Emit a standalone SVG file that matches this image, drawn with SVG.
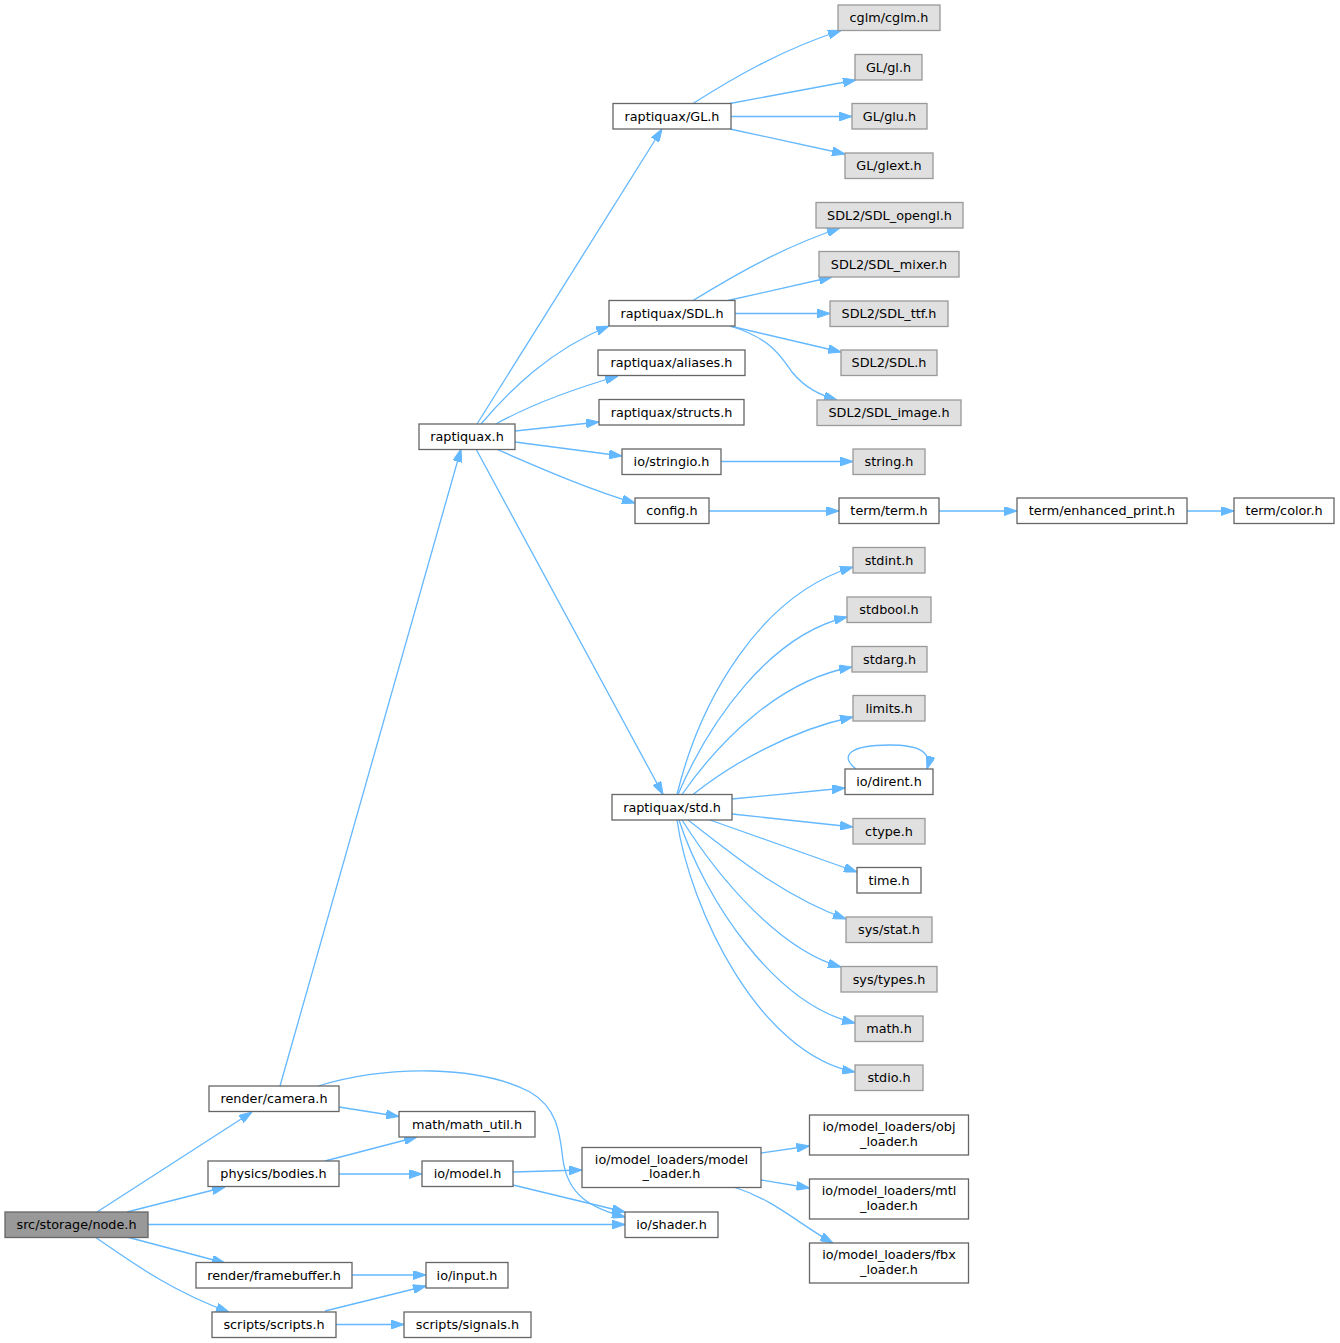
<svg xmlns="http://www.w3.org/2000/svg" width="1340" height="1343" viewBox="0 0 1340 1343">
<defs>
<style>
.n rect{fill:#ffffff;stroke:#666666;stroke-width:1.3}
.x rect{fill:#e0e0e0;stroke:#999999;stroke-width:1.3}
.r rect{fill:#999999;stroke:#666666;stroke-width:1.3}
text{font-family:"DejaVu Sans","Liberation Sans",sans-serif;font-size:12.8px;text-anchor:middle;fill:#000000}
#edges path{fill:none;stroke:#63b8ff;stroke-width:1.3;marker-end:url(#a)}
</style>
<marker id="a" viewBox="0 0 13 9" refX="13" refY="4.5" markerWidth="13" markerHeight="9" markerUnits="userSpaceOnUse" orient="auto">
<path d="M0,0 L13,4.5 L0,9 z" fill="#63b8ff" stroke="#63b8ff" stroke-width="1"/>
</marker>
</defs>
<rect width="1340" height="1343" fill="#ffffff"/>
<g id="edges">
<path d="M97,1212 L252,1112"/>
<path d="M127,1212 L225,1187"/>
<path d="M148,1224.5 L625,1224.5"/>
<path d="M127,1237 L225,1263"/>
<path d="M95,1237 C126,1258 168,1290 229,1312"/>
<path d="M280,1086 L461,449"/>
<path d="M339,1107 L399,1116.5"/>
<path d="M318,1086 C390,1064 480,1066 530,1092 C558,1108 560,1135 563,1160 C568,1195 590,1208 625,1217"/>
<path d="M325,1161 L417,1137"/>
<path d="M339,1174 L422,1174"/>
<path d="M513,1172 L582,1170"/>
<path d="M513,1185 L625,1212"/>
<path d="M352,1275 L426,1275"/>
<path d="M325,1311 L426,1286"/>
<path d="M336,1324.5 L404,1324.5"/>
<path d="M761,1153 L809.5,1146"/>
<path d="M761,1180 L809.5,1188"/>
<path d="M735,1187.5 C775,1200 800,1225 833,1243"/>
<path d="M477,424 L662,129"/>
<path d="M481,424 C510,390 550,350 609,326"/>
<path d="M496,424 C530,405 570,390 618,376"/>
<path d="M515,431 L599,422"/>
<path d="M515,442 L622,456"/>
<path d="M496,449 C540,468 590,490 635,503"/>
<path d="M476,449 L663,794.5"/>
<path d="M693,103.5 C730,80 780,50 841,30.5"/>
<path d="M730,103.5 L856,80"/>
<path d="M731,116.5 L852,116.5"/>
<path d="M730,129 L845,154"/>
<path d="M693,300.5 C730,278 780,248 840,228"/>
<path d="M728,300.5 L832,277"/>
<path d="M735,313.5 L830,313.5"/>
<path d="M730,326 L841,352"/>
<path d="M730,326 C770,338 780,355 792,372 C805,388 820,395 837,400"/>
<path d="M721,461.5 L853,461.5"/>
<path d="M709,511 L839,511"/>
<path d="M939,511 L1017,511"/>
<path d="M1187,511 L1234,511"/>
<path d="M677,794.5 C700,700 760,595 853,567"/>
<path d="M678,794.5 C710,720 770,635 847,617"/>
<path d="M682,794.5 C720,740 780,680 852,667"/>
<path d="M693,794.5 C730,765 790,730 853,717"/>
<path d="M732,799 L845,788"/>
<path d="M732,814 L853,827"/>
<path d="M710,820 L857,872"/>
<path d="M688,820 C730,852 780,895 846,919"/>
<path d="M682,820 C720,880 780,950 841,967"/>
<path d="M679,820 C705,900 775,1005 855,1023"/>
<path d="M677,820 C690,910 760,1055 855,1072"/>
<path d="M856,769 C838,755 852,745 889,745 C920,745 932,752 927,769"/>
</g>
<g id="node_root" class="r"><rect x="5" y="1212" width="143" height="25.5"/><text x="76.5" y="1229.2">src/storage/node.h</text></g>
<g id="node_camera" class="n"><rect x="209" y="1086" width="130" height="25.5"/><text x="274" y="1103.2">render/camera.h</text></g>
<g id="node_bodies" class="n"><rect x="208" y="1161" width="131" height="25.5"/><text x="273.5" y="1178.2">physics/bodies.h</text></g>
<g id="node_framebuffer" class="n"><rect x="196" y="1262.5" width="156" height="25.5"/><text x="274" y="1279.7">render/framebuffer.h</text></g>
<g id="node_scripts" class="n"><rect x="212" y="1312" width="124" height="25.5"/><text x="274" y="1329.2">scripts/scripts.h</text></g>
<g id="node_raptiquax" class="n"><rect x="419" y="424" width="96" height="25.5"/><text x="467" y="441.2">raptiquax.h</text></g>
<g id="node_math_util" class="n"><rect x="399" y="1111.5" width="136" height="25.5"/><text x="467" y="1128.7">math/math_util.h</text></g>
<g id="node_model" class="n"><rect x="422" y="1161" width="91" height="25.5"/><text x="467.5" y="1178.2">io/model.h</text></g>
<g id="node_input" class="n"><rect x="426" y="1262.5" width="82" height="25.5"/><text x="467" y="1279.7">io/input.h</text></g>
<g id="node_signals" class="n"><rect x="404" y="1312" width="127" height="25.5"/><text x="467.5" y="1329.2">scripts/signals.h</text></g>
<g id="node_GL" class="n"><rect x="613" y="103.5" width="118" height="25.5"/><text x="672" y="120.7">raptiquax/GL.h</text></g>
<g id="node_SDL" class="n"><rect x="609" y="300.5" width="126" height="25.5"/><text x="672" y="317.7">raptiquax/SDL.h</text></g>
<g id="node_aliases" class="n"><rect x="598" y="350" width="147" height="25.5"/><text x="671.5" y="367.2">raptiquax/aliases.h</text></g>
<g id="node_structs" class="n"><rect x="599" y="399.5" width="145" height="25.5"/><text x="671.5" y="416.7">raptiquax/structs.h</text></g>
<g id="node_stringio" class="n"><rect x="622" y="449" width="99" height="25.5"/><text x="671.5" y="466.2">io/stringio.h</text></g>
<g id="node_config" class="n"><rect x="635" y="498" width="74" height="25.5"/><text x="672" y="515.2">config.h</text></g>
<g id="node_std" class="n"><rect x="612" y="794.5" width="120" height="25.5"/><text x="672" y="811.7">raptiquax/std.h</text></g>
<g id="node_model_loader" class="n"><rect x="582" y="1147.5" width="179" height="40"/><text x="671.5" y="1163.5">io/model_loaders/model</text><text x="671.5" y="1178">_loader.h</text></g>
<g id="node_shader" class="n"><rect x="625" y="1212" width="93" height="25.5"/><text x="671.5" y="1229.2">io/shader.h</text></g>
<g id="node_cglm" class="x"><rect x="838" y="5" width="102" height="25.5"/><text x="889" y="22.2">cglm/cglm.h</text></g>
<g id="node_gl" class="x"><rect x="855" y="54.5" width="67" height="25.5"/><text x="888.5" y="71.7">GL/gl.h</text></g>
<g id="node_glu" class="x"><rect x="852" y="103.5" width="75" height="25.5"/><text x="889.5" y="120.7">GL/glu.h</text></g>
<g id="node_glext" class="x"><rect x="845" y="153" width="88" height="25.5"/><text x="889" y="170.2">GL/glext.h</text></g>
<g id="node_SDL_opengl" class="x"><rect x="816" y="202.5" width="147" height="25.5"/><text x="889.5" y="219.7">SDL2/SDL_opengl.h</text></g>
<g id="node_SDL_mixer" class="x"><rect x="819" y="251.5" width="140" height="25.5"/><text x="889" y="268.7">SDL2/SDL_mixer.h</text></g>
<g id="node_SDL_ttf" class="x"><rect x="830" y="301" width="118" height="25.5"/><text x="889" y="318.2">SDL2/SDL_ttf.h</text></g>
<g id="node_SDL2_SDL" class="x"><rect x="841" y="350" width="96" height="25.5"/><text x="889" y="367.2">SDL2/SDL.h</text></g>
<g id="node_SDL_image" class="x"><rect x="817" y="400" width="144" height="25.5"/><text x="889" y="417.2">SDL2/SDL_image.h</text></g>
<g id="node_string" class="x"><rect x="853" y="449" width="72" height="25.5"/><text x="889" y="466.2">string.h</text></g>
<g id="node_term" class="n"><rect x="839" y="498" width="100" height="25.5"/><text x="889" y="515.2">term/term.h</text></g>
<g id="node_enhanced" class="n"><rect x="1017" y="498" width="170" height="25.5"/><text x="1102" y="515.2">term/enhanced_print.h</text></g>
<g id="node_color" class="n"><rect x="1234" y="498" width="100" height="25.5"/><text x="1284" y="515.2">term/color.h</text></g>
<g id="node_stdint" class="x"><rect x="853" y="547.5" width="72" height="25.5"/><text x="889" y="564.7">stdint.h</text></g>
<g id="node_stdbool" class="x"><rect x="847" y="597" width="84" height="25.5"/><text x="889" y="614.2">stdbool.h</text></g>
<g id="node_stdarg" class="x"><rect x="852" y="646.5" width="75" height="25.5"/><text x="889.5" y="663.7">stdarg.h</text></g>
<g id="node_limits" class="x"><rect x="853" y="695.5" width="72" height="25.5"/><text x="889" y="712.7">limits.h</text></g>
<g id="node_dirent" class="n"><rect x="845" y="769" width="88" height="25.5"/><text x="889" y="786.2">io/dirent.h</text></g>
<g id="node_ctype" class="x"><rect x="853" y="818.5" width="72" height="25.5"/><text x="889" y="835.7">ctype.h</text></g>
<g id="node_time" class="n"><rect x="857" y="867.5" width="64" height="25.5"/><text x="889" y="884.7">time.h</text></g>
<g id="node_stat" class="x"><rect x="846" y="917" width="86" height="25.5"/><text x="889" y="934.2">sys/stat.h</text></g>
<g id="node_types" class="x"><rect x="841" y="966.5" width="96" height="25.5"/><text x="889" y="983.7">sys/types.h</text></g>
<g id="node_math" class="x"><rect x="855" y="1016" width="68" height="25.5"/><text x="889" y="1033.2">math.h</text></g>
<g id="node_stdio" class="x"><rect x="855" y="1065" width="68" height="25.5"/><text x="889" y="1082.2">stdio.h</text></g>
<g id="node_obj" class="n"><rect x="809.5" y="1115" width="159" height="40"/><text x="889" y="1131">io/model_loaders/obj</text><text x="889" y="1145.5">_loader.h</text></g>
<g id="node_mtl" class="n"><rect x="809.5" y="1179" width="159" height="40"/><text x="889" y="1195">io/model_loaders/mtl</text><text x="889" y="1209.5">_loader.h</text></g>
<g id="node_fbx" class="n"><rect x="809.5" y="1243" width="159" height="40"/><text x="889" y="1259">io/model_loaders/fbx</text><text x="889" y="1273.5">_loader.h</text></g>
</svg>
